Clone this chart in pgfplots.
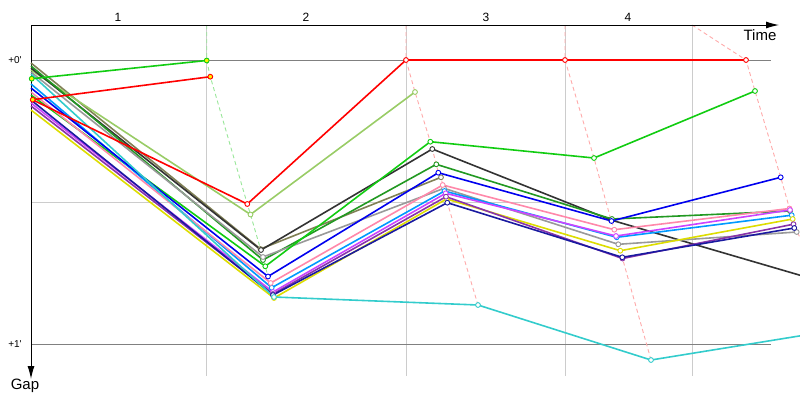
\documentclass[border=0pt]{standalone}
\usepackage{pgfplots}
\pgfplotsset{compat=1.18}
\usepackage{fontspec}
\setmainfont{Liberation Sans}
\usetikzlibrary{arrows.meta}
\definecolor{cRed}{HTML}{FF0000}
\definecolor{cGreen}{HTML}{11CC11}
\definecolor{cYG}{HTML}{99CC66}
\definecolor{cOlive}{HTML}{808055}
\definecolor{cDG}{HTML}{229922}
\definecolor{cBlack}{HTML}{333333}
\definecolor{cGray}{HTML}{999999}
\definecolor{cBlue}{HTML}{0000EE}
\definecolor{cPink}{HTML}{FF88AA}
\definecolor{cSky}{HTML}{0099FF}
\definecolor{cMag}{HTML}{CC44FF}
\definecolor{cPurp}{HTML}{8833AA}
\definecolor{cNavy}{HTML}{1A1AA0}
\definecolor{cTurq}{HTML}{33CCCC}
\definecolor{cYel}{HTML}{DDDD00}
\definecolor{lapPink}{HTML}{FFAAAA}
\definecolor{lapGreen}{HTML}{99E699}
\definecolor{gridLight}{HTML}{CCCCCC}
\definecolor{gridDark}{HTML}{808080}
\begin{document}
\begin{tikzpicture}
\begin{axis}[
  width=800pt, height=400pt, scale only axis,
  xmin=0, xmax=800, ymin=0, ymax=400, y dir=reverse,
  hide axis,
  drv/.style={line width=1.6pt, mark=*, mark size=2.4pt,
    mark options={fill=white, line width=0.9pt, solid}, mark indices={2,3,4,5,6}},
  drvY/.style={line width=1.6pt, mark=*, mark size=2.4pt,
    mark options={fill=yellow, line width=0.9pt, solid}},
  lap/.style={line width=0.9pt, dash pattern=on 4pt off 3pt, mark=none},
]
\path (axis cs:0,0) rectangle (axis cs:800,400);
% grid
\draw[gridLight, line width=0.8pt] (axis cs:206.7,25) -- (axis cs:206.7,376);
\draw[gridLight, line width=0.8pt] (axis cs:406,25) -- (axis cs:406,376);
\draw[gridLight, line width=0.8pt] (axis cs:565,25) -- (axis cs:565,376);
\draw[gridLight, line width=0.8pt] (axis cs:692,25) -- (axis cs:692,376);
\draw[gridLight, line width=0.8pt] (axis cs:31,202) -- (axis cs:770.7,202);
\draw[gridDark, line width=0.8pt] (axis cs:31,60) -- (axis cs:770.7,60);
\draw[gridDark, line width=0.8pt] (axis cs:31,344) -- (axis cs:770.7,344);
% lap lines
\addplot[lap, lapGreen] coordinates {(206.7,25) (206.7,60.5) (210.3,76.7) (247.3,204) (250.5,214.5) (260.5,249) (261,250) (263,257) (263,260) (265.3,266.3) (268,276.5) (270.7,283) (271.7,287.7) (273,292) (273,294) (273,295) (274,297)};
\addplot[lap, lapPink] coordinates {(406,25) (406,60) (415,92) (430.3,141.7) (432.3,149) (436.3,164.3) (438.3,172.7) (441,177.3) (442.7,185) (444,188.3) (444.5,191) (445.7,193.3) (446,196.7) (446.5,199) (447.3,202.7) (478,305)};
\addplot[lap, lapPink] coordinates {(565,25) (565,60) (594,158) (611,220) (611.5,221) (614.3,229.7) (616,236) (616.7,237.3) (618.3,244.3) (620.3,250.7) (622.3,257.3) (622.5,258.5) (651,360)};
\addplot[lap, lapPink] coordinates {(692,25) (746,60) (755,91) (780.7,177.3) (789.5,208.5) (790,210) (790,211) (791.7,215.2) (792.7,219) (793.5,224.2) (794.3,228) (796.7,232) (830,284) (830,331)};
% axes
\draw[black, line width=1pt, -{Latex[length=13pt,width=7pt]}] (axis cs:31,25) -- (axis cs:779,25);
\draw[black, line width=1pt, -{Latex[length=13pt,width=7pt]}] (axis cs:31,25) -- (axis cs:31,379);
% drivers
\addplot[drv, cOlive] coordinates {(31,63) (260.5,249) (441,177.3)};
\addplot[drv, cYG] coordinates {(31,70) (250.5,214.5) (415,92)};
\addplot[drv, cBlack] coordinates {(31,68) (261,250) (432.3,149) (611,220) (830,284)};
\addplot[drv, cDG] coordinates {(31,66) (263,260) (436.3,164.3) (612,219) (790,211)};
\addplot[drv, cGray] coordinates {(31,72) (263,257) (444,188.3) (618.3,244.3) (796.7,232)};
\addplot[drv, cGreen] coordinates {(31,95) (265.3,266.3) (430.3,141.7) (594,158) (755,91)};
\addplot[drv, cSky] coordinates {(31,84) (271.7,287.7) (444.5,191) (616.7,237.3) (791.7,215.2)};
\addplot[drv, cPink] coordinates {(31,92) (270.7,283) (442.7,185) (614.3,229.7) (789.5,208.5)};
\addplot[drv, cMag] coordinates {(31,103) (273,292) (445.7,193.3) (616,236) (790,210)};
\addplot[drv, cYel] coordinates {(31,110) (274,298) (446.5,199) (620.3,250.7) (792.7,219)};
\addplot[drv, cPurp] coordinates {(31,106) (273,294) (446,196.7) (622.5,258.5) (793.5,224.2)};
\addplot[drv, cNavy] coordinates {(31,100) (273,295) (447.3,202.7) (622.3,257.3) (794.3,228)};
\addplot[drv, cBlue] coordinates {(31,88) (268,276.5) (438.3,172.7) (611.5,221) (780.7,177.3)};
\addplot[drv, cTurq] coordinates {(31,74) (274,297) (478,305) (651,360) (830,331)};
\addplot[drv, cRed] coordinates {(33,100) (247.3,204) (406,60) (565,60) (746,60)};
\addplot[drvY, cGreen] coordinates {(31.7,78.7) (206.7,60.5)};
\addplot[drvY, cRed] coordinates {(32.7,99.7) (210.3,76.7)};
% labels
\node[font=\fontsize{12}{14}\selectfont] at (axis cs:118,17) {1};
\node[font=\fontsize{12}{14}\selectfont] at (axis cs:306,17) {2};
\node[font=\fontsize{12}{14}\selectfont] at (axis cs:486,17) {3};
\node[font=\fontsize{12}{14}\selectfont] at (axis cs:628,17) {4};
\node[font=\fontsize{10}{12}\selectfont] at (axis cs:15,60) {+0\textquotesingle};
\node[font=\fontsize{10}{12}\selectfont] at (axis cs:15,344) {+1\textquotesingle};
\node[font=\fontsize{15}{17}\selectfont] at (axis cs:760,35) {Time};
\node[font=\fontsize{15}{17}\selectfont] at (axis cs:25,386) {Gap};
\end{axis}
\end{tikzpicture}
\end{document}
